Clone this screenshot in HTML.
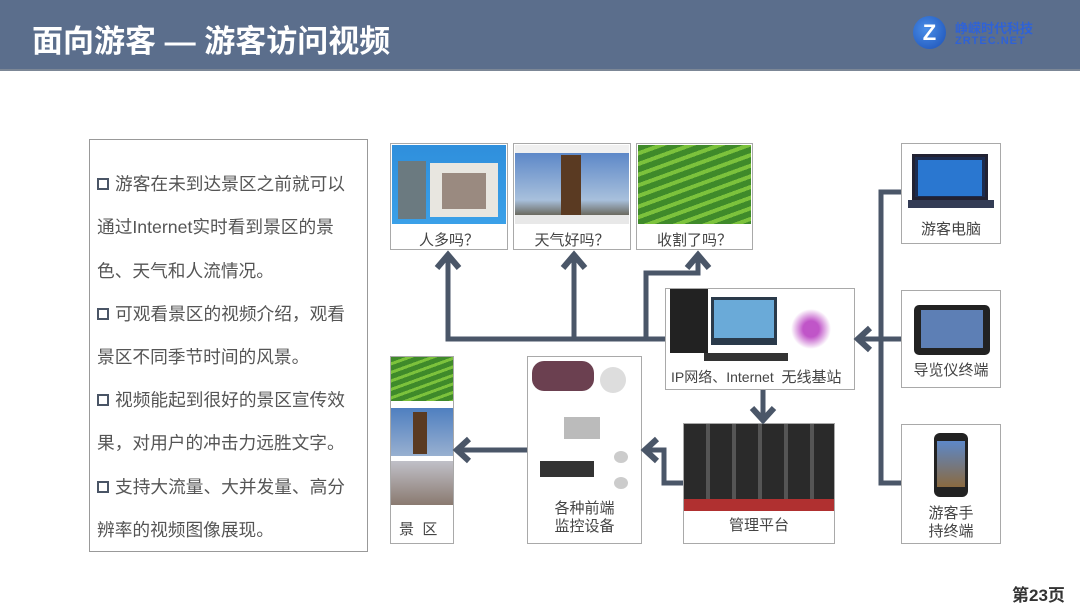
<!DOCTYPE html>
<html><head><meta charset="utf-8"><style>
*{margin:0;padding:0;box-sizing:border-box}
body{width:1080px;height:608px;position:relative;background:#fff;overflow:hidden;font-family:"Liberation Sans","Noto Sans CJK SC",sans-serif}
.hdr{position:absolute;left:0;top:0;width:1080px;height:71px;background:#5b6e8c;border-bottom:2px solid #7c8796}
.title{position:absolute;left:32px;top:16px;color:#fff;font-size:31px;font-weight:bold;letter-spacing:0px}
.box{position:absolute;border:1px solid #a9a9a9;background:#fff}
.lbl{position:absolute;left:0;right:0;text-align:center;color:#444;font-size:15px}
.txt{position:absolute;left:97px;font-size:17.7px;color:#555;white-space:nowrap}
.sq{display:inline-block;width:12px;height:12px;border:2.5px solid #4a5566;margin-right:6px;vertical-align:0px}
.img{position:absolute}
</style></head><body>
<div class="hdr"></div>
<div class="title">面向游客 — 游客访问视频</div>
<div style="position:absolute;left:913px;top:16px;width:33px;height:33px;border-radius:50%;background:radial-gradient(circle at 40% 40%,#4a8ee8,#1b4fb5);color:#fff;font-weight:bold;font-size:22px;text-align:center;line-height:33px">Z</div>
<div style="position:absolute;left:955px;top:18px;color:#2f62d6;font-size:13px;font-weight:bold">峥嵘时代科技</div>
<div style="position:absolute;left:955px;top:35px;color:#2f62d6;font-size:11px;font-weight:bold;letter-spacing:1px">ZRTEC.NET</div>

<div class="box" style="left:89px;top:139px;width:279px;height:413px;border-color:#999"></div>
<div class="txt" style="top:170px"><span class="sq"></span>游客在未到达景区之前就可以</div>
<div class="txt" style="top:213px">通过Internet实时看到景区的景</div>
<div class="txt" style="top:257px">色、天气和人流情况。</div>
<div class="txt" style="top:300px"><span class="sq"></span>可观看景区的视频介绍，观看</div>
<div class="txt" style="top:343px">景区不同季节时间的风景。</div>
<div class="txt" style="top:386px"><span class="sq"></span>视频能起到很好的景区宣传效</div>
<div class="txt" style="top:429px">果，对用户的冲击力远胜文字。</div>
<div class="txt" style="top:473px"><span class="sq"></span>支持大流量、大并发量、高分</div>
<div class="txt" style="top:516px">辨率的视频图像展现。</div>

<div class="box" style="left:390px;top:143px;width:118px;height:107px"><div class="img" style="left:1px;top:1px;width:114px;height:79px;background:linear-gradient(#2f8fdc,#3aa0e8);"><div style="position:absolute;left:6px;top:16px;width:28px;height:58px;background:#6b7a80"></div><div style="position:absolute;left:38px;top:18px;width:68px;height:54px;background:#e8e6e0"></div><div style="position:absolute;left:50px;top:28px;width:44px;height:36px;background:#9a8a80"></div></div><div class="lbl" style="top:85px">人多吗？</div></div>
<div class="box" style="left:513px;top:143px;width:118px;height:107px"><div class="img" style="left:1px;top:1px;width:114px;height:79px;background:linear-gradient(#f0f0f0 0 8px,#5d88c8 8px,#a8c0dc 55px,#6b6a60 70px,#e8e8e8 70px)"><div style="position:absolute;left:46px;top:10px;width:20px;height:60px;background:#5a3a22"></div></div><div class="lbl" style="top:85px">天气好吗？</div></div>
<div class="box" style="left:636px;top:143px;width:117px;height:107px"><div class="img" style="left:1px;top:1px;width:113px;height:79px;background:repeating-linear-gradient(160deg,#3f8a2a 0 6px,#7cc23c 6px 10px)"></div><div class="lbl" style="top:85px">收割了吗？</div></div>

<div class="box" style="left:901px;top:143px;width:100px;height:101px"><div class="img" style="left:10px;top:10px;width:76px;height:46px;background:#1c2c50;border:3px solid #223"><div style="position:absolute;left:3px;top:3px;width:64px;height:36px;background:#2a77d0"></div></div><div class="img" style="left:6px;top:56px;width:86px;height:8px;background:#333c55"></div><div class="lbl" style="top:74px">游客电脑</div></div>
<div class="box" style="left:901px;top:290px;width:100px;height:98px"><div class="img" style="left:12px;top:14px;width:76px;height:50px;background:#222;border-radius:5px"><div style="position:absolute;left:7px;top:5px;width:62px;height:38px;background:#5d7fb5"></div></div><div class="lbl" style="top:68px">导览仪终端</div></div>
<div class="box" style="left:901px;top:424px;width:100px;height:120px"><div class="img" style="left:32px;top:8px;width:34px;height:64px;background:#222;border-radius:6px"><div style="position:absolute;left:3px;top:8px;width:28px;height:46px;background:linear-gradient(#5d88c8,#8a6a40)"></div></div><div class="lbl" style="top:80px;line-height:18px">游客手<br>持终端</div></div>

<div class="box" style="left:665px;top:288px;width:190px;height:102px"><div class="img" style="left:4px;top:0px;width:38px;height:64px;background:#222"></div><div class="img" style="left:45px;top:8px;width:66px;height:48px;background:#2a3a4a"><div style="position:absolute;left:3px;top:3px;width:60px;height:38px;background:#6aaad8"></div></div><div class="img" style="left:38px;top:64px;width:84px;height:8px;background:#333"></div><div class="img" style="left:125px;top:10px;width:40px;height:50px;background:radial-gradient(circle at 50% 60%,#c055c8 0 8px,transparent 20px)"></div><div class="lbl" style="top:77px;font-size:14px;text-align:left;left:5px">IP网络、Internet&nbsp; <span style="font-size:15px">无线基站</span></div></div>

<div class="box" style="left:683px;top:423px;width:152px;height:121px"><div class="img" style="left:0;top:0;width:150px;height:87px;background:repeating-linear-gradient(90deg,#2a2a2a 0 22px,#555 22px 26px);"><div style="position:absolute;left:0;bottom:0;width:150px;height:12px;background:#b03030"></div></div><div class="lbl" style="top:90px">管理平台</div></div>

<div class="box" style="left:527px;top:356px;width:115px;height:188px"><div class="img" style="left:4px;top:4px;width:62px;height:30px;background:#6b4050;border-radius:12px"></div><div class="img" style="left:72px;top:10px;width:26px;height:26px;background:#ddd;border-radius:50%"></div><div class="img" style="left:36px;top:60px;width:36px;height:22px;background:#bbb"></div><div class="img" style="left:12px;top:104px;width:54px;height:16px;background:#333"></div><div class="img" style="left:86px;top:94px;width:14px;height:12px;background:#ccc;border-radius:50%"></div><div class="img" style="left:86px;top:120px;width:14px;height:12px;background:#ccc;border-radius:50%"></div><div class="lbl" style="top:143px;line-height:18px">各种前端<br>监控设备</div></div>

<div class="box" style="left:390px;top:356px;width:64px;height:188px"><div class="img" style="left:0;top:0;width:62px;height:44px;background:repeating-linear-gradient(160deg,#3f8a2a 0 5px,#7cc23c 5px 8px)"></div><div class="img" style="left:0;top:51px;width:62px;height:48px;background:linear-gradient(#4f7fc0,#98b0d0)"><div style="position:absolute;left:22px;top:4px;width:14px;height:42px;background:#5a3a22"></div></div><div class="img" style="left:0;top:104px;width:62px;height:44px;background:linear-gradient(#c0c0c8,#8a7a70)"></div><div class="lbl" style="top:161px;text-align:left;left:8px">景&nbsp; 区</div></div>

<svg width="1080" height="608" style="position:absolute;left:0;top:0" fill="none" stroke="#4a5668" stroke-width="5">
<polyline points="665,339 448,339 448,256"/>
<line x1="574" y1="339" x2="574" y2="256"/>
<polyline points="646,339 646,273 698,273 698,256"/>
<g stroke-width="6">
<polyline points="437,268 448,255 459,268"/>
<polyline points="563,268 574,255 585,268"/>
<polyline points="687,268 698,255 709,268"/>
<polyline points="752,408 763,420 774,408"/>
<polyline points="657,439 645,450 657,461"/>
<polyline points="469,439 457,450 469,461"/>
<polyline points="870,328 858,339 870,350"/>
</g>
<line x1="763" y1="390" x2="763" y2="420"/>
<polyline points="683,483 664,483 664,450 646,450"/>
<line x1="527" y1="450" x2="458" y2="450"/>
<polyline points="901,192 881,192 881,483 901,483"/>
<line x1="901" y1="339" x2="859" y2="339"/>
</svg>
<div style="position:absolute;left:1012px;top:581px;font-size:17px;font-weight:bold;color:#333">第23页</div>
</body></html>
